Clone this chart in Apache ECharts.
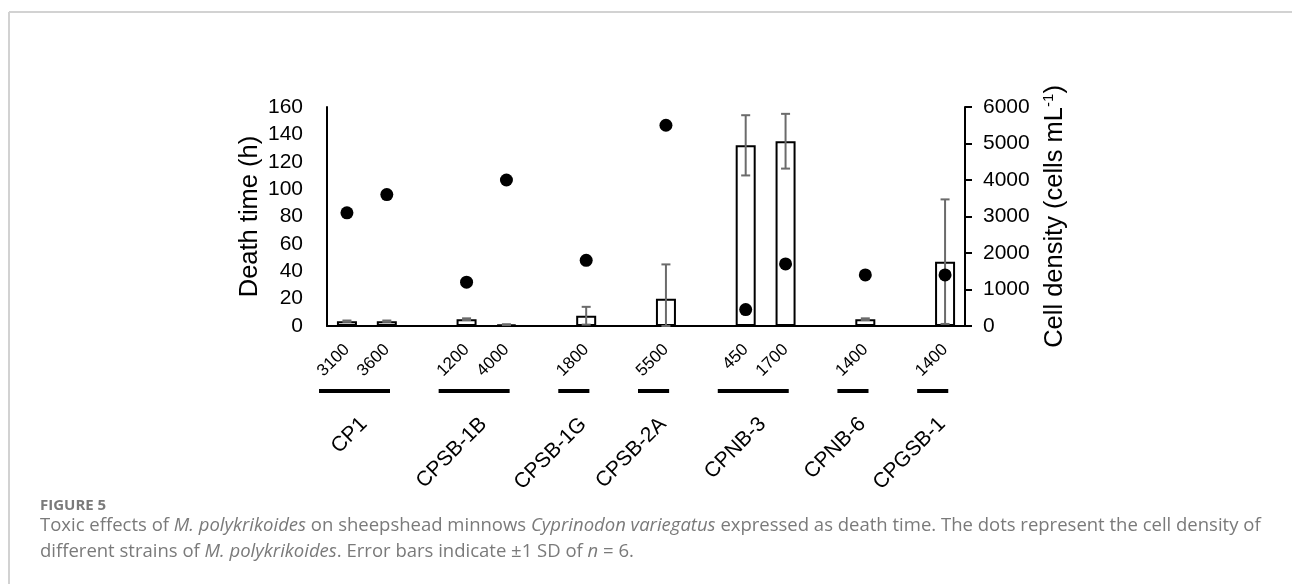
<!DOCTYPE html>
<html>
<head>
<meta charset="utf-8">
<title>Figure 5</title>
<script src="https://cdn.jsdelivr.net/npm/echarts@6/dist/echarts.min.js"></script>
<style>
  html, body { margin: 0; padding: 0; background: #fff; }
  #chart { width: 1292px; height: 584px; }
</style>
</head>
<body>
<div id="chart"></div>
<script>
// one slot per bar; empty slots are the gaps between strains
const densityLabels = ['3100', '3600', '', '1200', '4000', '', '1800', '', '5500', '', '450', '1700', '', '1400', '', '1400']
const strainOfSlot = ['CP1', 'CP1', '', 'CPSB-1B', 'CPSB-1B', '', 'CPSB-1G', '', 'CPSB-2A', '', 'CPNB-3', 'CPNB-3', '', 'CPNB-6', '', 'CPGSB-1']
const deathTime = [3.5, 3.5, null, 5, 1, null, 7.5, null, 20, null, 132, 135, null, 5, null, 47]
const deathTimeSD = [0.5, 0.5, null, 0.6, 0.3, null, 6.5, null, 25, null, 22, 20, null, 0.6, null, 45.5]
const cellDensity = [3100, 3600, null, 1200, 4000, null, 1800, null, 5500, null, 450, 1700, null, 1400, null, 1400]

// group consecutive slots of the same strain
const strains = []
strainOfSlot.forEach((s, i) => {
  if (!s) return
  const last = strains[strains.length - 1]
  if (last && last.name === s) last.to = i
  else strains.push({ name: s, from: i, to: i })
})

const errData = []
const dotData = []
deathTime.forEach((v, i) => {
  if (v != null) errData.push([i, v, deathTimeSD[i]])
  if (cellDensity[i] != null) dotData.push([i, cellDensity[i]])
})

const FONT = '"Liberation Sans", Arial, sans-serif'
const CAP_FONT = '"Open Sans", sans-serif'
const chart = echarts.init(document.getElementById('chart'))

const option = {
  animation: false,
  backgroundColor: '#fff',
  textStyle: { fontFamily: FONT, color: '#000' },
  grid: { left: 327, right: 327, top: 107, bottom: 258, containLabel: false },
  xAxis: {
    type: 'category',
    data: densityLabels,
    axisLine: { lineStyle: { color: '#000', width: 2 } },
    axisTick: { show: false },
    axisLabel: { interval: 0, rotate: 45, margin: 21, fontSize: 17, color: '#000', fontFamily: FONT },
    splitLine: { show: false }
  },
  yAxis: [
    {
      type: 'value',
      min: 0,
      max: 160,
      interval: 20,
      name: 'Death time (h)',
      nameLocation: 'middle',
      nameGap: 64,
      nameTextStyle: { fontSize: 25.5, color: '#000', fontFamily: FONT },
      axisLine: { show: true, lineStyle: { color: '#000', width: 2 } },
      axisTick: { show: false },
      axisLabel: { fontSize: 21, color: '#000', margin: 24, fontFamily: FONT },
      splitLine: { show: false }
    },
    {
      type: 'value',
      min: 0,
      max: 6000,
      interval: 1000,
      position: 'right',
      name: 'Cell density (cells mL{sup|-1})',
      nameLocation: 'middle',
      nameGap: 76,
      nameRotate: 90,
      nameTextStyle: {
        fontSize: 25.5, color: '#000', fontFamily: FONT,
        rich: { sup: { fontSize: 15, color: '#000', fontFamily: FONT, verticalAlign: 'top', padding: [0, 0, 12, 0] } }
      },
      axisLine: { show: true, lineStyle: { color: '#000', width: 2 } },
      axisTick: { show: true, inside: false, length: 7, lineStyle: { color: '#000', width: 2 } },
      axisLabel: { fontSize: 21, color: '#000', margin: 18, fontFamily: FONT, formatter: v => String(v) },
      splitLine: { show: false }
    }
  ],
  series: [
    {
      name: 'Death time',
      type: 'bar',
      yAxisIndex: 0,
      data: deathTime,
      barWidth: 20,
      itemStyle: { color: '#fff', borderColor: '#000', borderWidth: 2 },
      z: 2
    },
    {
      name: 'SD',
      type: 'custom',
      yAxisIndex: 0,
      data: errData,
      z: 3,
      renderItem: (params, api) => {
        const i = api.value(0)
        const v = api.value(1)
        const sd = api.value(2)
        const hi = api.coord([i, v + sd])
        const lo = api.coord([i, Math.max(v - sd, 0)])
        const cap = 4.5
        const style = { stroke: '#6b6b6b', lineWidth: 2 }
        return {
          type: 'group',
          children: [
            { type: 'line', shape: { x1: hi[0], y1: hi[1], x2: lo[0], y2: lo[1] }, style },
            { type: 'line', shape: { x1: hi[0] - cap, y1: hi[1], x2: hi[0] + cap, y2: hi[1] }, style },
            { type: 'line', shape: { x1: lo[0] - cap, y1: lo[1], x2: lo[0] + cap, y2: lo[1] }, style }
          ]
        }
      }
    },
    {
      name: 'Cell density',
      type: 'scatter',
      yAxisIndex: 1,
      data: dotData,
      symbol: 'circle',
      symbolSize: 13,
      itemStyle: { color: '#000', opacity: 1 },
      z: 4
    },
    {
      // strain underlines and names below the axis
      name: 'Strains',
      type: 'custom',
      yAxisIndex: 0,
      data: strains.map(g => [g.from, 0, g.to]),
      clip: false,
      silent: true,
      renderItem: (params, api) => {
        const a = api.coord([api.value(0), 0])
        const b = api.coord([api.value(2), 0])
        const band = api.size([1, 0])[0]
        const mid = (a[0] + b[0]) / 2
        return {
          type: 'group',
          children: [
            {
              type: 'line',
              shape: { x1: a[0] - band * 0.7, y1: a[1] + 65, x2: b[0] + band * 0.08, y2: b[1] + 65 },
              style: { stroke: '#000', lineWidth: 4 }
            },
            {
              type: 'text',
              x: mid - 3,
              y: a[1] + 95,
              rotation: Math.PI / 4,
              style: {
                text: strains[params.dataIndex].name,
                fill: '#000',
                font: '21px ' + FONT,
                align: 'right',
                verticalAlign: 'middle'
              }
            }
          ]
        }
      }
    }
  ],
  graphic: [
    { type: 'line', shape: { x1: 9, y1: 12, x2: 1292, y2: 12 }, style: { stroke: '#d2d2d2', lineWidth: 2 } },
    { type: 'line', shape: { x1: 9, y1: 12, x2: 9, y2: 584 }, style: { stroke: '#d2d2d2', lineWidth: 2 } },
    {
      type: 'text', left: 40, top: 498,
      style: { text: 'FIGURE 5', fill: '#7a7a7a', font: 'bold 15px ' + CAP_FONT }
    },
    {
      type: 'text', left: 40, top: 516,
      style: {
        text: 'Toxic effects of {i|M. polykrikoides} on sheepshead minnows {i|Cyprinodon variegatus} expressed as death time. The dots represent the cell density of',
        fill: '#7a7a7a',
        font: '18.5px ' + CAP_FONT,
        rich: { i: { fontStyle: 'italic', fontSize: 18.5, fontFamily: CAP_FONT, fill: '#7a7a7a' } }
      }
    },
    {
      type: 'text', left: 40, top: 542,
      style: {
        text: 'different strains of {i|M. polykrikoides}. Error bars indicate ±1 SD of {i|n} = 6.',
        fill: '#7a7a7a',
        font: '18.5px ' + CAP_FONT,
        rich: { i: { fontStyle: 'italic', fontSize: 18.5, fontFamily: CAP_FONT, fill: '#7a7a7a' } }
      }
    }
  ]
}

chart.setOption(option)
window.addEventListener('resize', () => chart.resize())
</script>
</body>
</html>
